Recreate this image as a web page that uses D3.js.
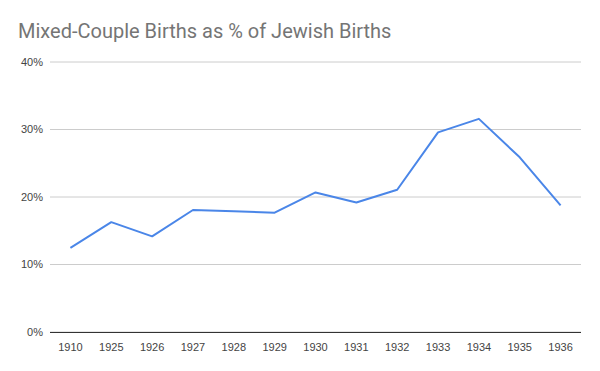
<!DOCTYPE html>
<html>
<head>
<meta charset="utf-8">
<script src="https://cdn.jsdelivr.net/npm/d3@7"></script>
<style>
  body { margin: 0; background: #fff; }
  svg { display: block; font-family: Roboto, "Noto Sans", Arial, sans-serif; }
</style>
</head>
<body>
<div id="chart"></div>
<script>
const years = ['1910', '1925', '1926', '1927', '1928', '1929', '1930', '1931', '1932', '1933', '1934', '1935', '1936'];
const shares = [12.4, 16.2, 14.1, 18.0, 17.8, 17.6, 20.6, 19.1, 21.0, 29.5, 31.5, 25.8, 18.7];
const yTicks = [0, 10, 20, 30, 40];

const width = 600, height = 371;
const margin = { top: 62, right: 19, bottom: 40, left: 50 };

const svg = d3.select('#chart')
    .append('svg')
    .attr('width', width)
    .attr('height', height);

svg.append('text')
    .attr('x', 18)
    .attr('y', 38)
    .attr('font-size', 20)
    .attr('fill', '#757575')
    .text('Mixed-Couple Births as % of Jewish Births');

const x = d3.scaleBand()
    .domain(years)
    .range([margin.left, width - margin.right]);

const y = d3.scaleLinear()
    .domain([0, 40])
    .range([height - margin.bottom + 0.5, margin.top - 0.5]);

// gridlines + y labels
const yAxis = svg.append('g')
    .attr('transform', `translate(${margin.left},0)`)
    .call(d3.axisLeft(y)
        .tickValues(yTicks)
        .tickSize(-(width - margin.left - margin.right))
        .tickPadding(7)
        .tickFormat(d => d + '%'));

yAxis.select('.domain').remove();
yAxis.selectAll('.tick line')
    .attr('stroke', '#cccccc');
yAxis.selectAll('.tick text')
    .attr('font-size', 11)
    .attr('fill', '#444');

// baseline
svg.append('line')
    .attr('x1', margin.left)
    .attr('x2', width - margin.right)
    .attr('y1', Math.round(y(0)) + 0.5)
    .attr('y2', Math.round(y(0)) + 0.5)
    .attr('stroke', '#333');

// x labels
const xAxis = svg.append('g')
    .attr('transform', `translate(0,${y(0)})`)
    .call(d3.axisBottom(x).tickSize(0).tickPadding(12));

xAxis.select('.domain').remove();
xAxis.selectAll('.tick text')
    .attr('font-size', 11)
    .attr('fill', '#444');

// line
const line = d3.line()
    .x((d, i) => x(years[i]) + x.bandwidth() / 2)
    .y(d => y(d));

svg.append('path')
    .datum(shares)
    .attr('fill', 'none')
    .attr('stroke', '#4a86e8')
    .attr('stroke-width', 2)
    .attr('stroke-linejoin', 'round')
    .attr('d', line);
</script>
</body>
</html>
